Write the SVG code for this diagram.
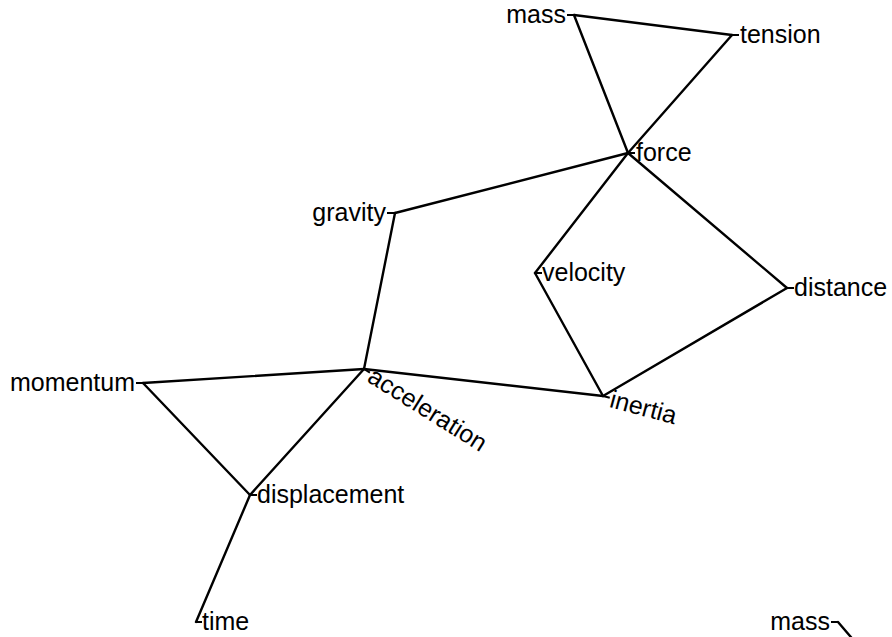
<svg xmlns="http://www.w3.org/2000/svg" width="892" height="637" viewBox="0 0 892 637">
<style>
  .edge { stroke: #000; stroke-width: 2.4; fill: none; stroke-linecap: round; stroke-linejoin: round; }
  .tick { stroke: #000; stroke-width: 2; fill: none; }
  .lbl { font-family: "Liberation Sans", Arial, sans-serif; font-size: 25px; fill: #000; }
  .r { text-anchor: start; }
  .l { text-anchor: end; }
</style>
<rect width="892" height="637" fill="#fff"/>
<g id="connectors">
  <line class="edge" x1="574" y1="15" x2="732" y2="35"/>
  <line class="edge" x1="574" y1="15" x2="628" y2="153"/>
  <line class="edge" x1="732" y1="35" x2="628" y2="153"/>
  <line class="edge" x1="628" y1="153" x2="395" y2="213"/>
  <line class="edge" x1="628" y1="153" x2="535" y2="273"/>
  <line class="edge" x1="628" y1="153" x2="787" y2="288"/>
  <line class="edge" x1="535" y1="273" x2="603" y2="396"/>
  <line class="edge" x1="787" y1="288" x2="603" y2="396"/>
  <line class="edge" x1="395" y1="213" x2="364" y2="369"/>
  <line class="edge" x1="364" y1="369" x2="603" y2="396"/>
  <line class="edge" x1="364" y1="369" x2="143" y2="383"/>
  <line class="edge" x1="364" y1="369" x2="250" y2="495"/>
  <line class="edge" x1="143" y1="383" x2="250" y2="495"/>
  <line class="edge" x1="250" y1="495" x2="196" y2="622"/>
  <line class="edge" x1="838" y1="622" x2="856" y2="643"/>
</g>
<g id="mass">
  <line class="tick" x1="567" y1="15" x2="574" y2="15"/>
  <text class="lbl l" x="566" y="23">mass</text>
</g>
<g id="tension">
  <line class="tick" x1="732" y1="35" x2="739" y2="35"/>
  <text class="lbl r" x="740" y="43">tension</text>
</g>
<g id="force">
  <line class="tick" x1="628" y1="153" x2="635" y2="153"/>
  <text class="lbl r" x="636" y="161">force</text>
</g>
<g id="gravity">
  <line class="tick" x1="387" y1="213" x2="395" y2="213"/>
  <text class="lbl l" x="386" y="221">gravity</text>
</g>
<g id="velocity">
  <line class="tick" x1="535" y1="273" x2="542" y2="273"/>
  <text class="lbl r" x="542" y="281">velocity</text>
</g>
<g id="distance">
  <line class="tick" x1="787" y1="288" x2="794" y2="288"/>
  <text class="lbl r" x="794" y="296">distance</text>
</g>
<g id="inertia" transform="translate(603,396) rotate(15)">
  <line class="tick" x1="0" y1="0" x2="7" y2="0"/>
  <text class="lbl r" x="8" y="9">inertia</text>
</g>
<g id="acceleration" transform="translate(364,369) rotate(32)">
  <line class="tick" x1="0" y1="0" x2="7" y2="0"/>
  <text class="lbl r" x="8" y="9">acceleration</text>
</g>
<g id="momentum">
  <line class="tick" x1="136" y1="383" x2="143" y2="383"/>
  <text class="lbl l" x="135" y="391">momentum</text>
</g>
<g id="displacement">
  <line class="tick" x1="250" y1="495" x2="257" y2="495"/>
  <text class="lbl r" x="257" y="503">displacement</text>
</g>
<g id="time">
  <line class="tick" x1="196" y1="622" x2="202" y2="622"/>
  <text class="lbl r" x="202" y="630">time</text>
</g>
<g id="mass-2">
  <line class="tick" x1="831" y1="622" x2="838" y2="622"/>
  <text class="lbl l" x="830" y="630">mass</text>
</g>
</svg>
